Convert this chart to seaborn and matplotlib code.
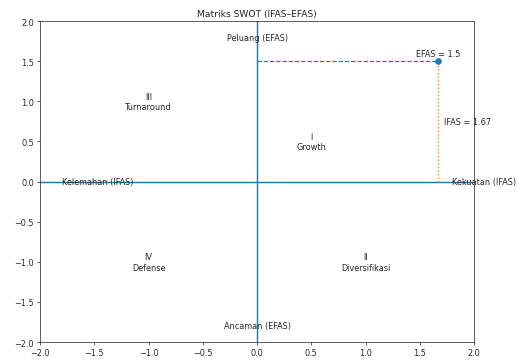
import matplotlib
matplotlib.use("Agg")
import matplotlib.pyplot as plt
import numpy as np
import seaborn as sns

# ── data ──
ifas = 1.67
efas = 1.5
ticks = [-2.0, -1.5, -1.0, -0.5, 0.0, 0.5, 1.0, 1.5, 2.0]
quadrants = ["I\nGrowth", "II\nDiversifikasi", "III\nTurnaround", "IV\nDefense"]
quad_x = [0.5, 1.0, -1.0, -1.0]
quad_y = [0.5, -1.0, 1.0, -1.0]

sns.set_style("ticks")
plt.rcParams["font.family"] = ["DejaVu Sans"]

fig = plt.figure(figsize=(8, 5.563), dpi=65.25)
ax = fig.add_axes([0.077, 0.055, 0.831, 0.884])

ax.axhline(0, color="C0", lw=1.6)
ax.axvline(0, color="C0", lw=1.6)

# guide lines to the position point
ax.plot([0, ifas], [efas, efas], color="C0", linestyle="--", lw=1.3)
ax.plot([ifas, ifas], [0, efas], color="C1", linestyle=":", lw=1.5)
sns.scatterplot(x=[ifas], y=[efas], ax=ax, color="C0", s=45, zorder=5, edgecolor="C0")

ax.text(ifas, efas + 0.04, f"EFAS = {efas}", ha="center", va="bottom", fontsize=9)
ax.text(ifas + 0.05, efas / 2, f"IFAS = {ifas}", ha="left", va="center", fontsize=9)

ax.text(1.8, 0, "Kekuatan (IFAS)", ha="left", va="center", fontsize=9)
ax.text(-1.8, 0, "Kelemahan (IFAS)", ha="left", va="center", fontsize=9)
ax.text(0, 1.8, "Peluang (EFAS)", ha="center", va="center", fontsize=9)
ax.text(0, -1.8, "Ancaman (EFAS)", ha="center", va="center", fontsize=9)

for lab, qx, qy in zip(quadrants, quad_x, quad_y):
    ax.text(qx, qy, lab, ha="center", va="center", fontsize=9)

ax.set_xlim(-2, 2)
ax.set_ylim(-2, 2)
ax.set_xticks(ticks)
ax.set_yticks(ticks)
ax.set_xlabel("")
ax.set_ylabel("")
ax.tick_params(labelsize=9)
ax.set_title("Matriks SWOT (IFAS\u2013EFAS)", fontsize=10)

fig.savefig("out.png", dpi=65.25)
